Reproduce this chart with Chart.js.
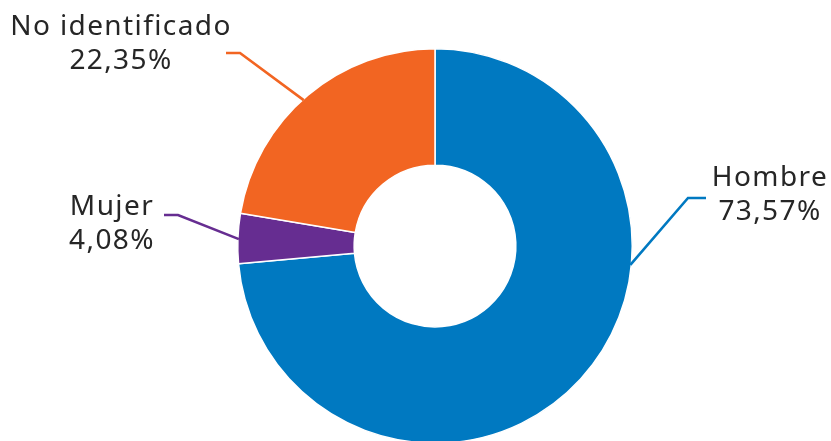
<!DOCTYPE html>
<html>
<head>
<meta charset="utf-8">
<script src="https://cdn.jsdelivr.net/npm/chart.js@4"></script>
<style>
  html, body { margin: 0; padding: 0; background: #fff; overflow: hidden; }
  #wrap { position: absolute; left: 0; top: 0; width: 831px; height: 460px; }
</style>
</head>
<body>
<div id="wrap"><canvas id="genderChart"></canvas></div>
<script>
// data
const categories = ["Hombre", "Mujer", "No identificado"];
const shares = [73.57, 4.08, 22.35];
const colors = ["#0079C1", "#662D91", "#F26522"];

// where each label sits (angle on the arc in degrees, elbow, line end, text centre)
const labelSpots = [
  { angle: 5.5,   elbow: [688, 198], end: [706, 198], text: [770, 178] },
  { angle: 182,   elbow: [178, 215], end: [164, 215], text: [112, 207] },
  { angle: 228,   elbow: [240, 53],  end: [226, 53],  text: [121, 27] }
];

const fmt = v => v.toFixed(2).replace(".", ",") + "%";

const calloutLabels = {
  id: "calloutLabels",
  afterDraw(chart) {
    const ctx = chart.ctx;
    const arcs = chart.getDatasetMeta(0).data;
    ctx.save();
    arcs.forEach((arc, i) => {
      const spot = labelSpots[i];
      const a = spot.angle * Math.PI / 180;
      const r = arc.outerRadius - 1;
      const ax = arc.x + Math.cos(a) * r;
      const ay = arc.y + Math.sin(a) * r;

      ctx.strokeStyle = colors[i];
      ctx.lineWidth = 2.6;
      ctx.beginPath();
      ctx.moveTo(ax, ay);
      ctx.lineTo(spot.elbow[0], spot.elbow[1]);
      ctx.lineTo(spot.end[0], spot.end[1]);
      ctx.stroke();

      ctx.fillStyle = "#262626";
      ctx.font = "28px 'Noto Sans'";
      ctx.letterSpacing = "1.4px";
      ctx.textAlign = "center";
      ctx.textBaseline = "middle";
      ctx.fillText(categories[i], spot.text[0], spot.text[1]);
      ctx.fillText(fmt(shares[i]), spot.text[0], spot.text[1] + 34);
    });
    ctx.restore();
  }
};

new Chart(document.getElementById("genderChart"), {
  type: "doughnut",
  data: {
    labels: categories,
    datasets: [{
      data: shares,
      backgroundColor: colors,
      borderColor: "#ffffff",
      borderWidth: 1.5
    }]
  },
  options: {
    responsive: true,
    maintainAspectRatio: false,
    animation: false,
    cutout: "41%",
    layout: { padding: { top: 48, bottom: 16, left: 237, right: 198 } },
    plugins: {
      legend: { display: false },
      tooltip: { enabled: false }
    }
  },
  plugins: [calloutLabels]
});
</script>
</body>
</html>
